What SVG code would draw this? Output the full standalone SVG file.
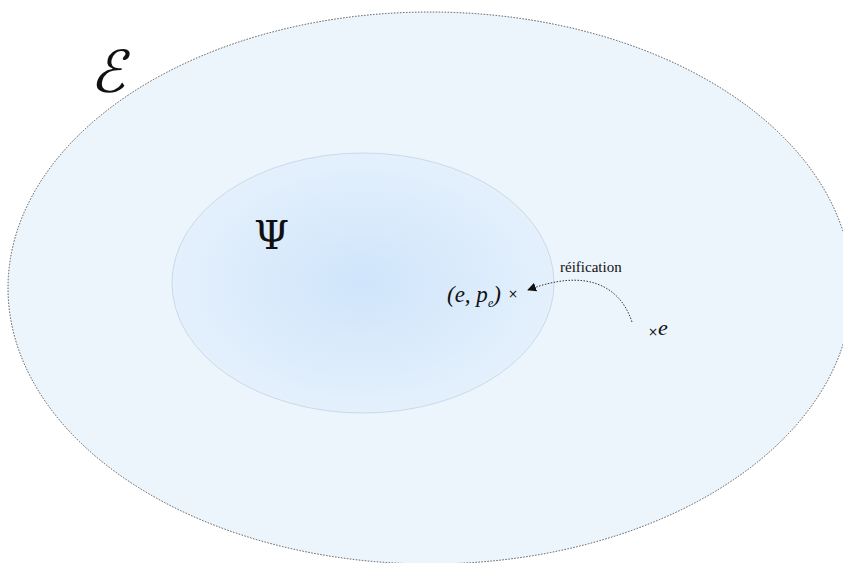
<svg xmlns="http://www.w3.org/2000/svg" width="843" height="563" viewBox="0 0 843 563">
<style>
.lbl{font-family:"Liberation Serif",serif;font-size:15px;fill:#111}
</style>
<defs>
<radialGradient id="g" cx="0.5" cy="0.5" r="0.5">
<stop offset="0" stop-color="#cfe5fb"/>
<stop offset="1" stop-color="#e4f0fc"/>
</radialGradient>
<marker id="ah" viewBox="0 0 10 10" refX="9" refY="5" markerWidth="9" markerHeight="9" markerUnits="userSpaceOnUse" orient="auto">
<path d="M0,0 L10,5 L0,10 z" fill="#111"/>
</marker>
</defs>
<rect width="843" height="563" fill="#fff"/>
<g id="E">
<ellipse cx="430" cy="288" rx="422" ry="276" fill="#ecf4fc" stroke="#555" stroke-width="1" stroke-dasharray="1.5,1.5"/>
<text x="0" y="0" font-size="58" font-family="DejaVu Sans,sans-serif" fill="#111" transform="translate(90,92) skewX(-14)">ℰ</text>
</g>
<g id="Psi">
<ellipse cx="363" cy="283" rx="191" ry="130" fill="url(#g)" stroke="#c8daee" stroke-width="1"/>
<text x="254" y="249" font-family="DejaVu Serif,serif" font-size="40" fill="#111">Ψ</text>
</g>
<g id="pe">
<text x="447" y="302" font-family="Liberation Serif,serif" font-size="23" fill="#111" font-style="italic">(e, p<tspan font-size="12" dy="5">e</tspan><tspan dy="-5">)</tspan></text>
<text x="508" y="298" font-family="DejaVu Sans,sans-serif" font-size="12" fill="#111">×</text>
</g>
<g id="e">
<text x="648" y="336" font-family="DejaVu Sans,sans-serif" font-size="12" fill="#111">×</text>
<text x="658" y="335" font-family="Liberation Serif,serif" font-size="22" font-style="italic" fill="#111">e</text>
</g>
<g id="connectors">
<path d="M632,322 C620,285 585,268 528,290" fill="none" stroke="#333" stroke-width="1" stroke-dasharray="1.5,1.5" marker-end="url(#ah)"/>
<text x="560" y="272" class="lbl" font-family="Liberation Serif,serif" font-size="15">réification</text>
</g>
</svg>
